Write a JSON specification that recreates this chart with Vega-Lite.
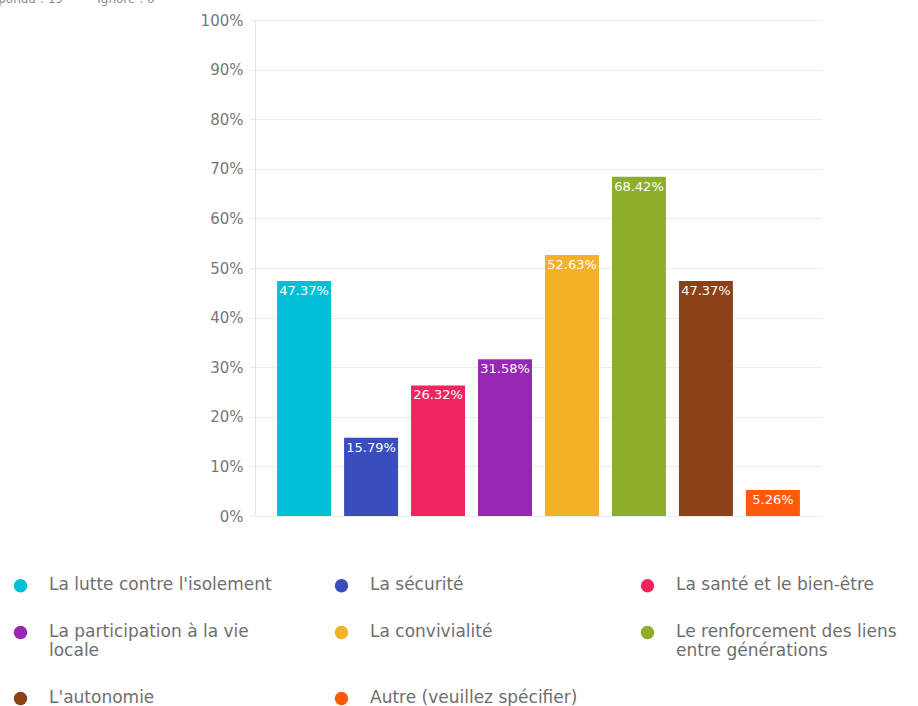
{
  "$schema": "https://vega.github.io/schema/vega-lite/v6.json",
  "width": 567,
  "height": 496,
  "autosize": {"type": "none"},
  "padding": {"left": 255, "top": 20, "right": 96, "bottom": 190},
  "title": {
    "text": "Répondu : 19\u00a0\u00a0\u00a0\u00a0\u00a0\u00a0\u00a0\u00a0\u00a0Ignoré : 0",
    "anchor": "start",
    "frame": "group",
    "baseline": "alphabetic",
    "dx": -272,
    "offset": -2,
    "fontSize": 12,
    "fontWeight": "normal",
    "color": "#888888",
    "font": "DejaVu Sans"
  },
  "data": {
    "values": [
      {"choix": "La lutte contre l'isolement", "part": 0.4737},
      {"choix": "La sécurité", "part": 0.1579},
      {"choix": "La santé et le bien-être", "part": 0.2632},
      {"choix": "La participation à la vie locale", "part": 0.3158},
      {"choix": "La convivialité", "part": 0.5263},
      {"choix": "Le renforcement des liens entre générations", "part": 0.6842},
      {"choix": "L'autonomie", "part": 0.4737},
      {"choix": "Autre (veuillez spécifier)", "part": 0.0526}
    ]
  },
  "encoding": {
    "x": {
      "field": "choix",
      "type": "nominal",
      "sort": null,
      "axis": null,
      "scale": {"paddingInner": 0.194, "paddingOuter": 0.33}
    },
    "y": {
      "field": "part",
      "type": "quantitative",
      "scale": {"domain": [0, 1]},
      "axis": {
        "title": null,
        "format": "%",
        "values": [0, 0.1, 0.2, 0.3, 0.4, 0.5, 0.6, 0.7, 0.8, 0.9, 1],
        "labelFontSize": 15,
        "labelColor": "#777777",
        "labelFont": "DejaVu Sans",
        "labelPadding": 7,
        "tickSize": 5,
        "tickColor": "#e6e6e6",
        "domainColor": "#e3e3e3",
        "gridColor": "#ececec"
      }
    }
  },
  "layer": [
    {
      "mark": {"type": "bar"},
      "encoding": {
        "color": {
          "field": "choix",
          "type": "nominal",
          "sort": null,
          "scale": {
            "domain": [
              "La lutte contre l'isolement",
              "La sécurité",
              "La santé et le bien-être",
              "La participation à la vie locale",
              "La convivialité",
              "Le renforcement des liens entre générations",
              "L'autonomie",
              "Autre (veuillez spécifier)"
            ],
            "range": ["#00BFD6", "#3A4DBD", "#EF2560", "#9A27B3", "#F3B125", "#8CAE28", "#8B4218", "#FF5A0A"]
          },
          "legend": {
            "title": null,
            "orient": "none",
            "legendX": -243,
            "legendY": 557,
            "columns": 3,
            "direction": "horizontal",
            "gridAlign": "each",
            "columnPadding": 61,
            "rowPadding": 29,
            "symbolType": "circle",
            "symbolSize": 180,
            "symbolStrokeWidth": 0,
            "labelFontSize": 17,
            "labelFont": "DejaVu Sans",
            "labelColor": "#6e6e6e",
            "labelOffset": 20,
            "labelLimit": 400,
            "labelBaseline": "top",
            "labelLineHeight": 20,
            "labelExpr": "datum.label == 'La participation à la vie locale' ? ['La participation à la vie', 'locale'] : datum.label == 'Le renforcement des liens entre générations' ? ['Le renforcement des liens', 'entre générations'] : datum.label",
            "encode": {"labels": {"update": {"dy": {"value": -9}}}}
          }
        }
      }
    },
    {
      "mark": {"type": "text", "baseline": "top", "dy": 4, "color": "white", "fontSize": 13, "font": "DejaVu Sans"},
      "encoding": {
        "text": {"field": "part", "type": "quantitative", "format": ".2%"}
      }
    }
  ],
  "config": {
    "view": {"stroke": "transparent"}
  }
}
